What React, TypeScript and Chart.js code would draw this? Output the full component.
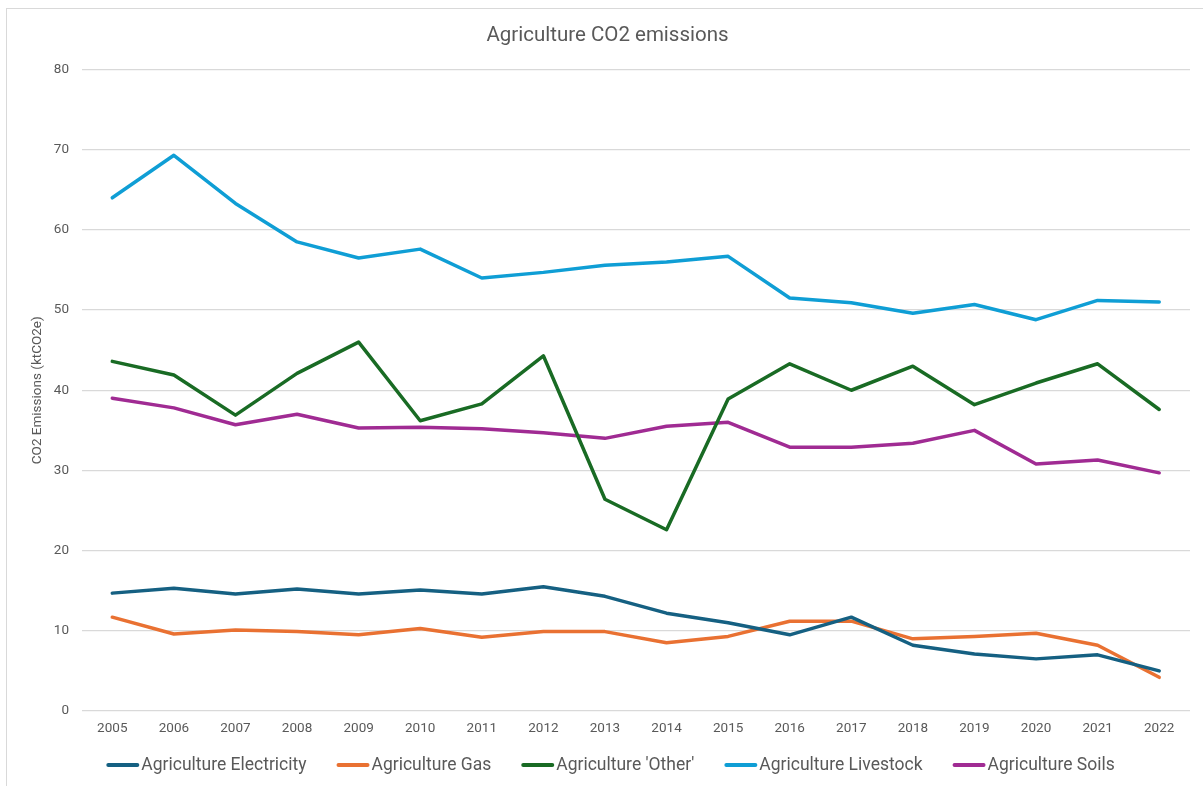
import React, { useEffect, useRef } from "react";
import { Chart, registerables } from "chart.js";

Chart.register(...registerables);

// Emissions by agricultural source, ktCO2e
const years = [
  "2005", "2006", "2007", "2008", "2009", "2010", "2011", "2012", "2013",
  "2014", "2015", "2016", "2017", "2018", "2019", "2020", "2021", "2022",
];
const electricity = [14.7, 15.3, 14.6, 15.2, 14.6, 15.1, 14.6, 15.5, 14.3, 12.2, 11.0, 9.5, 11.7, 8.2, 7.1, 6.5, 7.0, 5.0];
const gas = [11.7, 9.6, 10.1, 9.9, 9.5, 10.3, 9.2, 9.9, 9.9, 8.5, 9.3, 11.2, 11.2, 9.0, 9.3, 9.7, 8.2, 4.2];
const other = [43.6, 41.9, 36.9, 42.1, 46.0, 36.2, 38.3, 44.3, 26.4, 22.6, 38.9, 43.3, 40.0, 43.0, 38.2, 40.9, 43.3, 37.6];
const livestock = [64.0, 69.3, 63.3, 58.5, 56.5, 57.6, 54.0, 54.7, 55.6, 56.0, 56.7, 51.5, 50.9, 49.6, 50.7, 48.8, 51.2, 51.0];
const soils = [39.0, 37.8, 35.7, 37.0, 35.3, 35.4, 35.2, 34.7, 34.0, 35.5, 36.0, 32.9, 32.9, 33.4, 35.0, 30.8, 31.3, 29.7];

const seriesNames = [
  "Agriculture Electricity",
  "Agriculture Gas",
  "Agriculture 'Other'",
  "Agriculture Livestock",
  "Agriculture Soils",
];
const seriesValues = [electricity, gas, other, livestock, soils];
const seriesColors = ["#156082", "#E97132", "#196B24", "#0F9ED5", "#A02B93"];

const yMin = 0;
const yMax = 80;
const yStep = 10;

const chartTitle = "Agriculture CO2 emissions";
const yAxisTitle = "CO2 Emissions (ktCO2e)";

const FONT = "Roboto, 'Noto Sans', sans-serif";
const TEXT = "#595959";
const GRID = "#d9d9d9";

// Centered chart heading
const headingPlugin = {
  id: "heading",
  afterDraw(chart: any) {
    const ctx = chart.ctx;
    ctx.save();
    ctx.font = `20.5px ${FONT}`;
    ctx.fillStyle = TEXT;
    ctx.textAlign = "center";
    ctx.textBaseline = "middle";
    ctx.fillText(chartTitle, chart.width / 2 + 6, 36);
    ctx.restore();
  },
};

// Bottom legend: short line swatch followed directly by the series name
const lineLegendPlugin = {
  id: "lineLegend",
  afterDraw(chart: any) {
    const ctx = chart.ctx;
    ctx.save();
    ctx.font = `17.5px ${FONT}`;
    const swatch = 33;
    const gap = 2;
    const spacing = 30;
    const items = chart.data.datasets.map((ds: any) => ({
      label: ds.label,
      color: ds.borderColor,
      w: ctx.measureText(ds.label).width,
    }));
    const total =
      items.reduce((s: number, it: any) => s + swatch + gap + it.w, 0) +
      spacing * (items.length - 1);
    let x = chart.width / 2 + 9 - total / 2;
    const y = 765;
    ctx.textBaseline = "middle";
    ctx.textAlign = "left";
    for (const it of items) {
      ctx.strokeStyle = it.color;
      ctx.lineWidth = 4;
      ctx.lineCap = "round";
      ctx.beginPath();
      ctx.moveTo(x + 2, y);
      ctx.lineTo(x + swatch - 2, y);
      ctx.stroke();
      ctx.fillStyle = TEXT;
      ctx.fillText(it.label, x + swatch + gap, y + 1);
      x += swatch + gap + it.w + spacing;
    }
    ctx.restore();
  },
};

function EmissionsChart() {
  const canvasRef = useRef<HTMLCanvasElement | null>(null);

  useEffect(() => {
    if (!canvasRef.current) return;
    const chart = new Chart(canvasRef.current, {
      type: "line",
      data: {
        labels: years,
        datasets: seriesNames.map((name, i) => ({
          label: name,
          data: seriesValues[i],
          borderColor: seriesColors[i],
          backgroundColor: seriesColors[i],
          borderWidth: 3.5,
          tension: 0,
          pointRadius: 0,
          pointHoverRadius: 0,
          borderCapStyle: "round",
          borderJoinStyle: "round",
          fill: false,
        })),
      },
      options: {
        responsive: false,
        animation: false,
        devicePixelRatio: 1,
        layout: {
          padding: { top: 69.5, right: 13, bottom: 35, left: 0 },
        },
        plugins: {
          legend: { display: false },
          title: { display: false },
          tooltip: { enabled: false },
        },
        scales: {
          x: {
            type: "category",
            offset: true,
            grid: { display: false, drawTicks: false },
            border: { display: false },
            ticks: {
              color: TEXT,
              font: { family: FONT, size: 13.5 },
              padding: 10,
              maxRotation: 0,
              autoSkip: false,
            },
            afterFit(scale: any) {
              scale.height = 40;
            },
          },
          y: {
            min: yMin,
            max: yMax,
            grid: { color: GRID, lineWidth: 1.3, drawTicks: false },
            border: { display: false },
            ticks: {
              stepSize: yStep,
              color: TEXT,
              font: { family: FONT, size: 13.5 },
              padding: 12.5,
            },
            title: {
              display: true,
              text: yAxisTitle,
              color: TEXT,
              font: { family: FONT, size: 13.5 },
              padding: { top: 30, bottom: 0 },
            },
            afterFit(scale: any) {
              scale.width = 81.5;
            },
          },
        },
      },
      plugins: [headingPlugin, lineLegendPlugin],
    } as any);
    return () => chart.destroy();
  }, []);

  return (
    <canvas
      ref={canvasRef}
      width={1203}
      height={786}
      style={{ position: "fixed", left: 0, top: 0, width: 1203, height: 786 }}
    />
  );
}

export default function App() {
  return (
    <div>
      <div
        style={{
          position: "fixed",
          left: 6,
          top: 8,
          right: 0,
          bottom: 0,
          borderTop: "1.5px solid #d9d9d9",
          borderLeft: "1.5px solid #d9d9d9",
          background: "#ffffff",
        }}
      />
      <EmissionsChart />
    </div>
  );
}
